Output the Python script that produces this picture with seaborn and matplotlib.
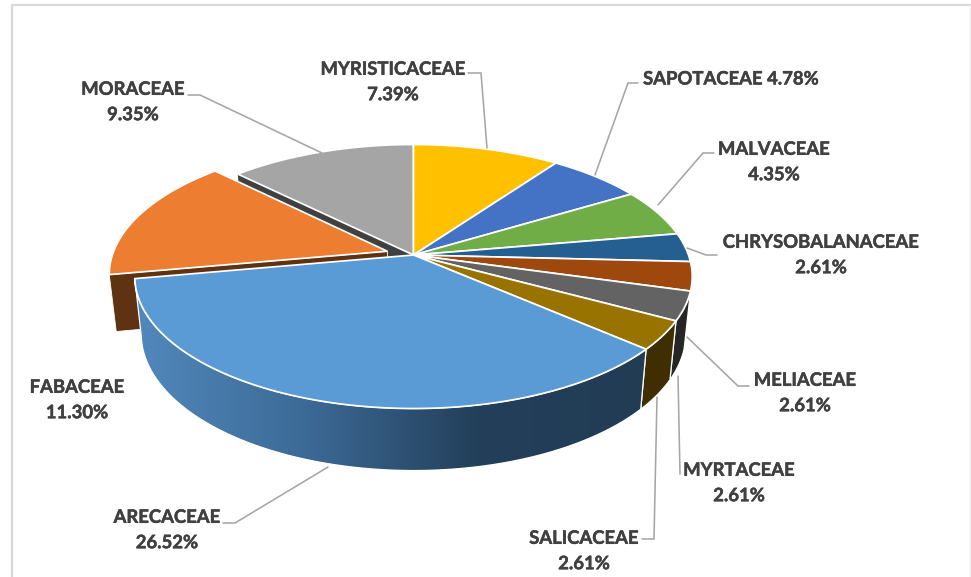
import numpy as np
import matplotlib
matplotlib.use("Agg")
import matplotlib.pyplot as plt
import matplotlib.patheffects as pe
from matplotlib.patches import Polygon
import seaborn as sns

# one slice per colour; the brown slice between CHRYSOBALANACEAE and MELIACEAE carries no label
shares = [7.39, 4.78, 4.35, 2.61, 2.61, 2.61, 2.61, 26.52, 11.30, 9.35]
top_colors = ["#ffc000", "#4472c4", "#70ad47", "#255e91", "#9e480e", "#636363",
              "#997300", "#5b9bd5", "#ed7d31", "#a5a5a5"]
side_colors = ["#7f6000", "#2f4a80", "#436829", "#163857", "#5f2c08", "#262626",
               "#3f2f00", "#223c54", "#5f3212", "#404040"]
explode = [0, 0, 0, 0, 0, 0, 0, 0, 0.10, 0]

labels = [("MYRISTICACEAE\n7.39%", 393, 82), ("SAPOTACEAE 4.78%", 731, 79),
          ("MALVACEAE\n4.35%", 774, 162), ("CHRYSOBALANACEAE\n2.61%", 821, 255),
          ("MELIACEAE\n2.61%", 805, 393), ("MYRTACEAE\n2.61%", 739, 483),
          ("SALICACEAE\n2.61%", 584, 551), ("ARECACEAE\n26.52%", 167, 530),
          ("FABACEAE\n11.30%", 77, 400), ("MORACEAE\n9.35%", 133, 102)]
leaders = [[(188, 95), (200, 95), (322, 153)], [(468, 73), (481, 73), (487, 148)],
           [(638, 83), (628, 83), (595, 175)], [(714, 153), (703, 153), (658, 205)],
           [(717, 255), (706, 255), (687, 248)], [(749, 386), (738, 386), (687, 337)],
           [(680, 474), (678, 376)], [(642, 539), (654, 539), (657, 397)],
           [(223, 523), (235, 523), (328, 467)]]

CX, CY, BX, BY, K = 413.5, 255, 275, 128.5, 0.163
SCALE, DEPTH, SLOPE = 0.977, 56, 6

sns.set_theme(style="white")
plt.rcParams["font.family"] = ["Lato", "DejaVu Sans"]
fig = plt.figure(figsize=(9.71, 5.77), dpi=100)
ax = fig.add_axes([0, 0, 1, 1])
ax.set_axis_off()


def top(u, v):
    den = 1 + K * v
    return np.column_stack([CX + BX * u / den, CY - BY * v / den])


def low(u, v):
    p = top(u, v)
    p[:, 0] = CX + SCALE * (p[:, 0] - CX)
    p[:, 1] = p[:, 1] + DEPTH - SLOPE * v
    return p


total = sum(shares)
edges = np.concatenate([[0], np.cumsum(shares)]) / total * 2 * np.pi
geom = []
for a, b, e in zip(edges[:-1], edges[1:], explode):
    mid = (a + b) / 2
    du, dv = e * np.sin(mid), e * np.cos(mid)
    t = np.linspace(a, b, 160)
    geom.append((np.sin(t) + du, np.cos(t) + dv, np.array([du]), np.array([dv])))


def top_poly(i):
    u, v, au, av = geom[i]
    return np.vstack([top(au, av), top(u, v)])


def side_poly(i):
    u, v, _, _ = geom[i]
    return np.vstack([top(u, v), low(u, v)[::-1]])


def cut_poly(i, end):
    u, v, au, av = geom[i]
    ru, rv = np.array([u[end]]), np.array([v[end]])
    return np.vstack([top(au, av), top(ru, rv), low(ru, rv), low(au, av)])


def patch(xy, fc, z, lw=1.25, ec="white"):
    ax.add_patch(Polygon(xy, closed=True, fc=fc, ec=ec, lw=lw, zorder=z, joinstyle="miter"))


MOR, FAB, ARE = 9, 8, 7
patch(cut_poly(MOR, 0), side_colors[MOR], 1, lw=0)
patch(top_poly(MOR), top_colors[MOR], 2)
patch(side_poly(FAB), side_colors[FAB], 3, lw=0.6)
patch(cut_poly(FAB, 0), side_colors[FAB], 3, lw=0.6)
patch(top_poly(FAB), top_colors[FAB], 4)

for i in range(7):
    patch(side_poly(i), side_colors[i], 5, lw=0.9)

# shaded wall of the largest slice, light on the left and dark on the right
wall = side_poly(ARE)
shade = np.array(sns.blend_palette(["#5188bc", "#3c6a96", "#233f5a", "#223c54"], 256))[None, :, :3]
img = ax.imshow(shade, extent=(wall[:, 0].min(), wall[:, 0].max(), wall[:, 1].max(), wall[:, 1].min()),
                aspect="auto", zorder=5)
clip = Polygon(wall, closed=True, transform=ax.transData)
img.set_clip_path(clip)
patch(wall, "none", 5.5, lw=0.9)

for i in range(8):
    patch(top_poly(i), top_colors[i], 6)

for pts in leaders:
    xs, ys = zip(*pts)
    ax.plot(xs, ys, color="#a6a6a6", lw=1.15, zorder=7, solid_joinstyle="miter")

for text, x, y in labels:
    ax.text(x, y, text, ha="center", va="center", ma="center", fontsize=13.3, fontweight="bold",
            color="#404040", linespacing=1.6, zorder=8,
            path_effects=[pe.withStroke(linewidth=0.35, foreground="#404040")])

ax.set_xlim(0, 971)
ax.set_ylim(577, 0)
ax.plot([12, 12, 970], [577, 5, 5], color="#d9d9d9", lw=1.6, zorder=0)
ax.plot([970, 970], [5, 577], color="#f0f0f0", lw=1.0, zorder=0)

fig.savefig("out.png", dpi=100)
